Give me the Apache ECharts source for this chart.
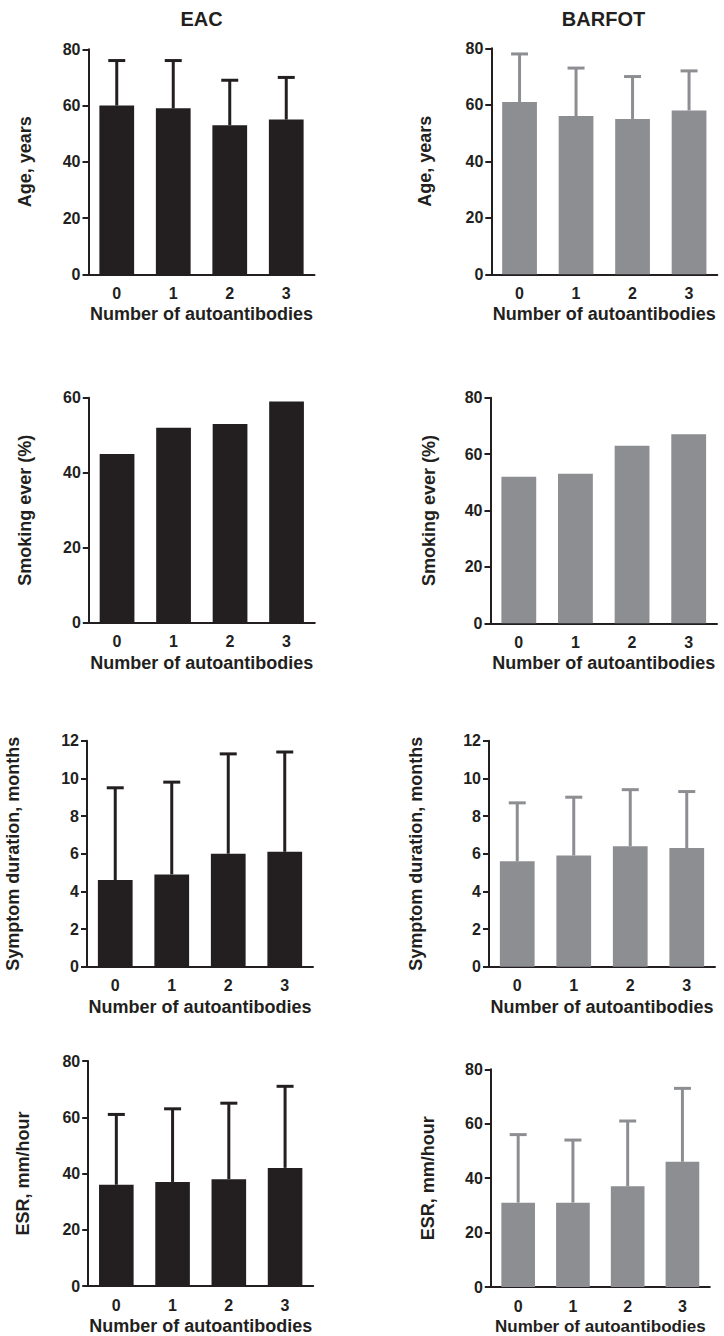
<!DOCTYPE html>
<html>
<head>
<meta charset="utf-8">
<style>
  html, body { margin: 0; padding: 0; background: #ffffff; }
  #chart { width: 724px; height: 1336px; }
</style>
<script src="https://cdn.jsdelivr.net/npm/echarts@6/dist/echarts.min.js"></script>
</head>
<body>
<div id="chart"></div>
<script>
// ---------- DATA ----------
const categories = ['0', '1', '2', '3'];
const groupTitles = ['EAC', 'BARFOT'];
const xAxisName = 'Number of autoantibodies';

const eacAge = [60, 59, 53, 55];
const eacAgeUpper = [76, 76, 69, 70];
const barfotAge = [61, 56, 55, 58];
const barfotAgeUpper = [78, 73, 70, 72];

const eacSmoking = [45, 52, 53, 59];
const barfotSmoking = [52, 53, 63, 67];

const eacSymptom = [4.6, 4.9, 6.0, 6.1];
const eacSymptomUpper = [9.5, 9.8, 11.3, 11.4];
const barfotSymptom = [5.6, 5.9, 6.4, 6.3];
const barfotSymptomUpper = [8.7, 9.0, 9.4, 9.3];

const eacEsr = [36, 37, 38, 42];
const eacEsrUpper = [61, 63, 65, 71];
const barfotEsr = [31, 31, 37, 46];
const barfotEsrUpper = [56, 54, 61, 73];

const yNames = ['Age, years', 'Smoking ever (%)', 'Symptom duration, months', 'ESR, mm/hour'];

// ---------- STYLE / LAYOUT ----------
const FONT = "'Liberation Sans', Arial, Helvetica, sans-serif";
const INK = '#231f20';
const GREY = '#8d8e92';
const TICK_SIZE = 16;

const panels = [
  { grid: { left: 88.5, top: 49.3, width: 226, height: 225 }, values: eacAge, upper: eacAgeUpper, color: INK, yName: yNames[0], max: 80, interval: 20, nameGap: 55, xNameSize: 18 },
  { grid: { left: 491.3, top: 48.3, width: 226, height: 226 }, values: barfotAge, upper: barfotAgeUpper, color: GREY, yName: yNames[0], max: 80, interval: 20, nameGap: 57, xNameSize: 18 },
  { grid: { left: 88.8, top: 397.7, width: 226, height: 225 }, values: eacSmoking, upper: null, color: INK, yName: yNames[1], max: 60, interval: 20, nameGap: 55, xNameSize: 18 },
  { grid: { left: 490.5, top: 397.7, width: 226.5, height: 225.6 }, values: barfotSmoking, upper: null, color: GREY, yName: yNames[1], max: 80, interval: 20, nameGap: 53, xNameSize: 18 },
  { grid: { left: 87, top: 740.7, width: 226, height: 226 }, values: eacSymptom, upper: eacSymptomUpper, color: INK, yName: yNames[2], max: 12, interval: 2, nameGap: 65, xNameSize: 18 },
  { grid: { left: 489, top: 740.7, width: 226, height: 226 }, values: barfotSymptom, upper: barfotSymptomUpper, color: GREY, yName: yNames[2], max: 12, interval: 2, nameGap: 64, xNameSize: 18 },
  { grid: { left: 88.2, top: 1061, width: 225, height: 226.3 }, values: eacEsr, upper: eacEsrUpper, color: INK, yName: yNames[3], max: 80, interval: 20, nameGap: 56, xNameSize: 18 },
  { grid: { left: 490.8, top: 1069.3, width: 219, height: 218 }, values: barfotEsr, upper: barfotEsrUpper, color: GREY, yName: yNames[3], max: 80, interval: 20, nameGap: 54, xNameSize: 17 }
];

const grids = [], xAxes = [], yAxes = [], series = [];

panels.forEach((p, i) => {
  grids.push(Object.assign({ containLabel: false }, p.grid));
  xAxes.push({
    type: 'category',
    gridIndex: i,
    data: categories,
    axisLine: { show: true, lineStyle: { color: INK, width: 2 } },
    axisTick: { show: false },
    axisLabel: { color: INK, fontFamily: FONT, fontWeight: 'bold', fontSize: TICK_SIZE, margin: 11 },
    name: xAxisName,
    nameLocation: 'middle',
    nameGap: 31,
    nameTextStyle: { color: INK, fontFamily: FONT, fontWeight: 'bold', fontSize: p.xNameSize }
  });
  yAxes.push({
    type: 'value',
    gridIndex: i,
    min: 0,
    max: p.max,
    interval: p.interval,
    splitLine: { show: false },
    axisLine: { show: true, lineStyle: { color: INK, width: 2 } },
    axisTick: { show: true, length: 6, lineStyle: { color: INK, width: 2 } },
    axisLabel: { color: INK, fontFamily: FONT, fontWeight: 'bold', fontSize: TICK_SIZE, margin: 8 },
    name: p.yName,
    nameLocation: 'middle',
    nameGap: p.nameGap,
    nameTextStyle: { color: INK, fontFamily: FONT, fontWeight: 'bold', fontSize: 18 }
  });
  series.push({
    type: 'bar',
    xAxisIndex: i,
    yAxisIndex: i,
    data: p.values,
    barWidth: '61.5%',
    itemStyle: { color: p.color },
    silent: true,
    z: 2
  });
  if (p.upper) {
    series.push({
      type: 'custom',
      xAxisIndex: i,
      yAxisIndex: i,
      silent: true,
      z: 3,
      data: p.values.map((v, k) => [k, v, p.upper[k]]),
      renderItem: function (params, api) {
        const base = api.coord([api.value(0), api.value(1)]);
        const top = api.coord([api.value(0), api.value(2)]);
        const half = 8.5;
        const style = { stroke: p.color, lineWidth: 3, fill: null };
        return {
          type: 'group',
          children: [
            { type: 'line', shape: { x1: base[0], y1: base[1], x2: top[0], y2: top[1] }, style: style },
            { type: 'line', shape: { x1: top[0] - half, y1: top[1], x2: top[0] + half, y2: top[1] }, style: style }
          ]
        };
      }
    });
  }
});

const option = {
  animation: false,
  backgroundColor: '#ffffff',
  grid: grids,
  xAxis: xAxes,
  yAxis: yAxes,
  series: series,
  graphic: [
    { type: 'text', x: 201.5, y: 18.5, style: { text: groupTitles[0], fill: INK, font: 'bold 20px ' + FONT, textAlign: 'center', textVerticalAlign: 'middle' } },
    { type: 'text', x: 603.5, y: 18.5, style: { text: groupTitles[1], fill: INK, font: 'bold 20px ' + FONT, textAlign: 'center', textVerticalAlign: 'middle' } }
  ]
};

const chart = echarts.init(document.getElementById('chart'), null, { renderer: 'svg', width: 724, height: 1336 });
chart.setOption(option);
</script>
</body>
</html>
